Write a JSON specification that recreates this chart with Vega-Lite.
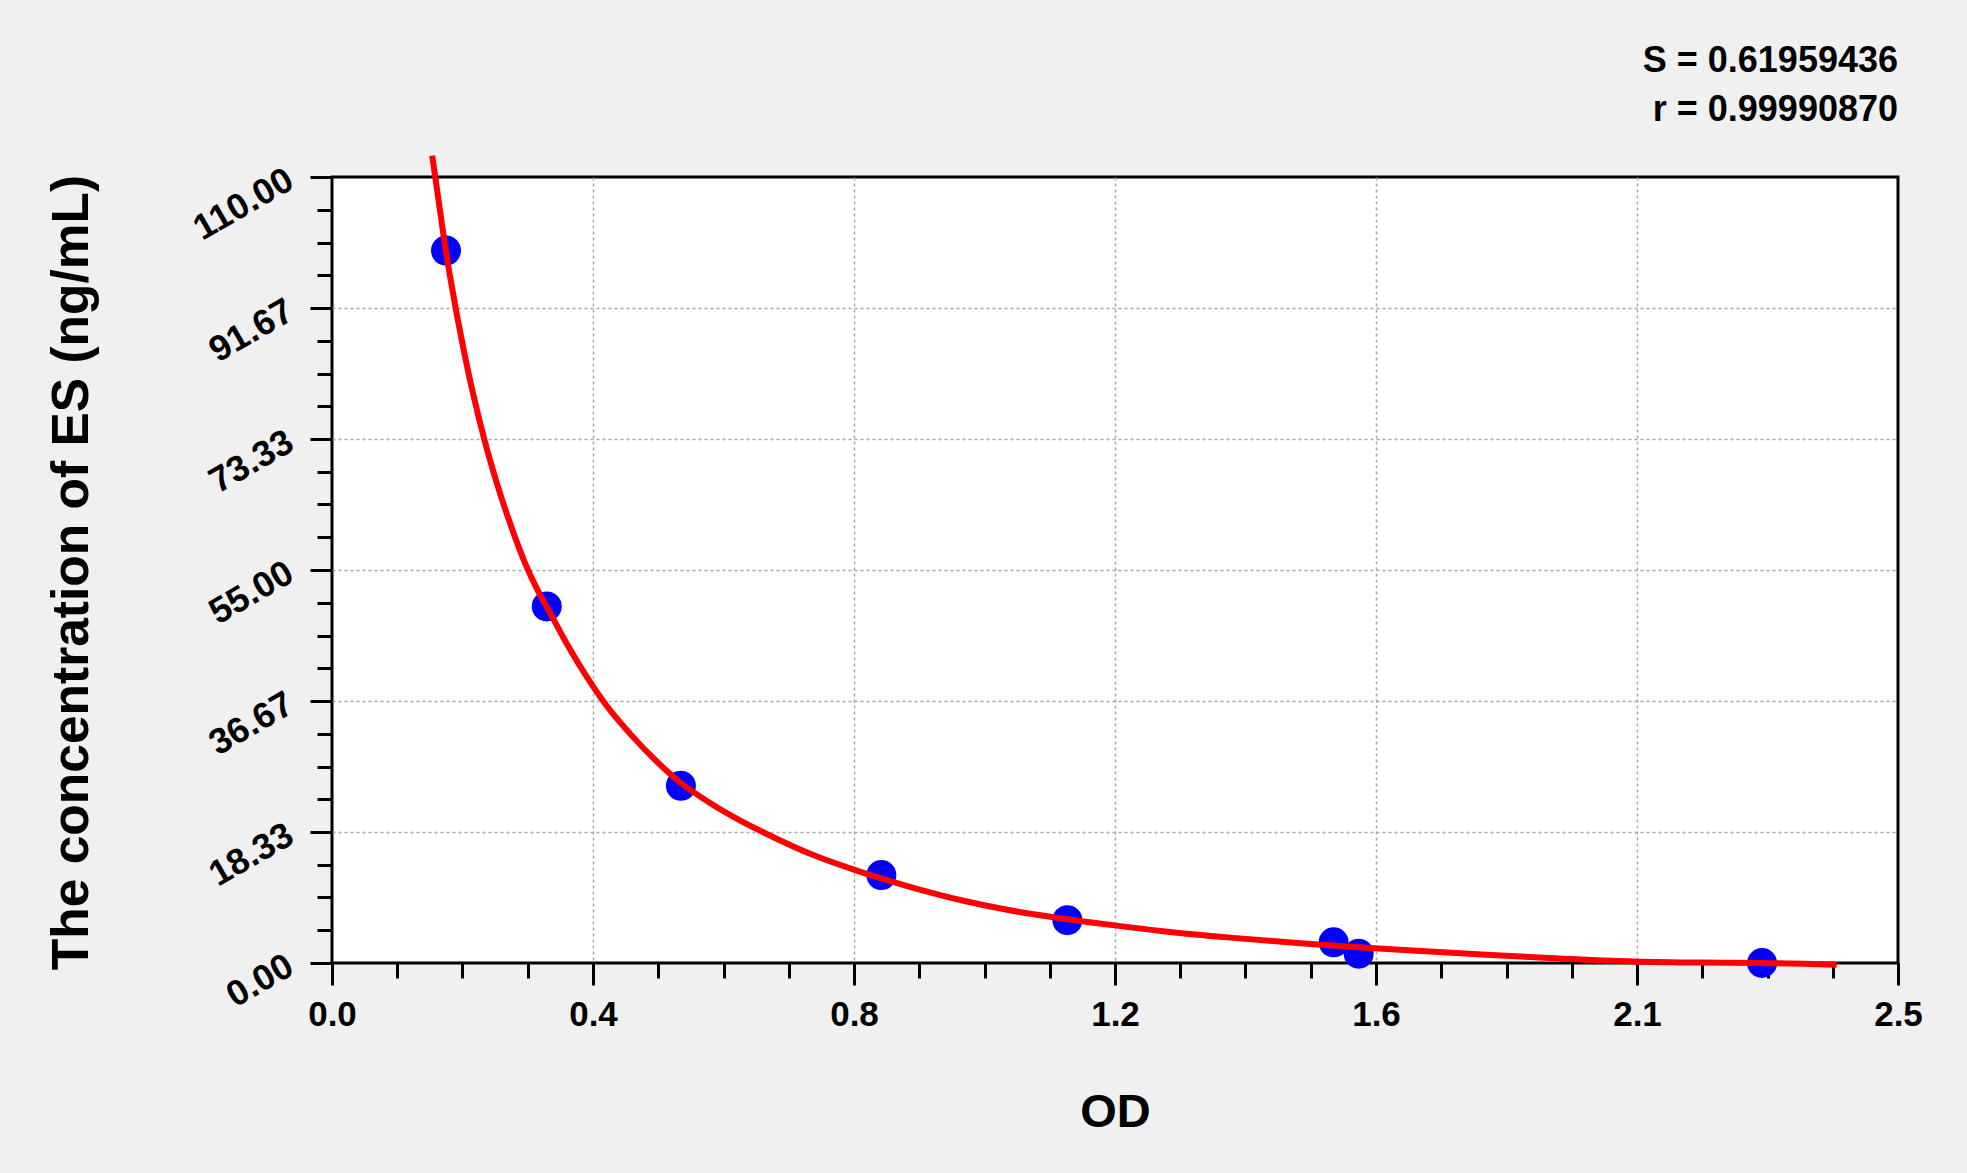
{
  "$schema": "https://vega.github.io/schema/vega-lite/v6.json",
  "width": 1566,
  "height": 786,
  "autosize": {"type": "none"},
  "padding": {"left": 332, "top": 177, "right": 69, "bottom": 210},
  "background": "#f0f0f0",
  "config": {
    "view": {"fill": "white", "stroke": "black", "strokeWidth": 3},
    "font": "Liberation Sans"
  },
  "title": {
    "text": "S = 0.61959436",
    "subtitle": "r = 0.99990870",
    "anchor": "end",
    "frame": "group",
    "font": "Liberation Sans",
    "fontSize": 36,
    "fontWeight": "bold",
    "color": "black",
    "subtitleFont": "Liberation Sans",
    "subtitleFontSize": 36,
    "subtitleFontWeight": "bold",
    "subtitleColor": "black",
    "subtitlePadding": 13,
    "offset": 15
  },
  "datasets": {
    "curve": [
      {"od": 0.160, "conc": 113.0},
      {"od": 0.170, "conc": 106.8},
      {"od": 0.1815, "conc": 99.8},
      {"od": 0.191, "conc": 94.8},
      {"od": 0.200, "conc": 90.4},
      {"od": 0.212, "conc": 85.0},
      {"od": 0.227, "conc": 79.0},
      {"od": 0.244, "conc": 73.0},
      {"od": 0.263, "conc": 67.2},
      {"od": 0.284, "conc": 61.6},
      {"od": 0.308, "conc": 56.0},
      {"od": 0.327, "conc": 52.4},
      {"od": 0.345, "conc": 49.5},
      {"od": 0.369, "conc": 45.6},
      {"od": 0.4146, "conc": 39.0},
      {"od": 0.4385, "conc": 36.0},
      {"od": 0.4757, "conc": 32.1},
      {"od": 0.5184, "conc": 28.2},
      {"od": 0.5556, "conc": 25.3},
      {"od": 0.6035, "conc": 22.4},
      {"od": 0.6461, "conc": 20.2},
      {"od": 0.7072, "conc": 17.5},
      {"od": 0.7714, "conc": 15.0},
      {"od": 0.8355, "conc": 13.0},
      {"od": 0.877, "conc": 11.85},
      {"od": 0.9353, "conc": 10.35},
      {"od": 1.0065, "conc": 8.75},
      {"od": 1.0777, "conc": 7.45},
      {"od": 1.149, "conc": 6.45},
      {"od": 1.2468, "conc": 5.3},
      {"od": 1.3273, "conc": 4.45},
      {"od": 1.434, "conc": 3.55},
      {"od": 1.541, "conc": 2.8},
      {"od": 1.625, "conc": 2.28},
      {"od": 1.746, "conc": 1.65},
      {"od": 1.843, "conc": 1.15},
      {"od": 1.953, "conc": 0.66},
      {"od": 2.079, "conc": 0.22},
      {"od": 2.185, "conc": 0.06},
      {"od": 2.283, "conc": 0.0},
      {"od": 2.402, "conc": -0.25}
    ],
    "points": [
      {"od": 0.182, "conc": 99.7},
      {"od": 0.3428, "conc": 49.9},
      {"od": 0.557, "conc": 24.8},
      {"od": 0.877, "conc": 12.3},
      {"od": 1.174, "conc": 6.0},
      {"od": 1.599, "conc": 2.9},
      {"od": 1.639, "conc": 1.3},
      {"od": 2.283, "conc": 0.0}
    ]
  },
  "layer": [
    {
      "data": {"name": "points"},
      "mark": {"type": "circle", "color": "#0000ff", "opacity": 1, "size": 900},
      "encoding": {
        "x": {
          "field": "od", "type": "quantitative",
          "scale": {"domain": [0, 2.5], "nice": false, "zero": false},
          "axis": {
            "orient": "bottom",
            "values": [0, 0.1041667, 0.2083333, 0.3125, 0.4166667, 0.5208333, 0.625, 0.7291667, 0.8333333, 0.9375, 1.0416667, 1.1458333, 1.25, 1.3541667, 1.4583333, 1.5625, 1.6666667, 1.7708333, 1.875, 1.9791667, 2.0833333, 2.1875, 2.2916667, 2.3958333, 2.5],
            "labels": false, "grid": false, "domain": false, "title": null,
            "ticks": true, "tickSize": 15, "tickWidth": 3, "tickColor": "black"
          }
        },
        "y": {
          "field": "conc", "type": "quantitative",
          "scale": {"domain": [0, 110], "nice": false, "zero": false},
          "axis": {
            "orient": "left",
            "values": [0, 4.583333, 9.166667, 13.75, 18.333333, 22.916667, 27.5, 32.083333, 36.666667, 41.25, 45.833333, 50.416667, 55, 59.583333, 64.166667, 68.75, 73.333333, 77.916667, 82.5, 87.083333, 91.666667, 96.25, 100.833333, 105.416667, 110],
            "labels": false, "grid": false, "domain": false, "title": null,
            "ticks": true, "tickSize": 15, "tickWidth": 3, "tickColor": "black"
          }
        }
      }
    },
    {
      "data": {"name": "curve"},
      "mark": {"type": "line", "color": "#ff0000", "strokeWidth": 6, "clip": false, "interpolate": "monotone"},
      "encoding": {
        "x": {
          "field": "od", "type": "quantitative",
          "scale": {"domain": [0, 2.5], "nice": false, "zero": false},
          "axis": {
            "orient": "bottom",
            "values": [0, 0.4166667, 0.8333333, 1.25, 1.6666667, 2.0833333, 2.5],
            "labelExpr": "['0.0','0.4','0.8','1.2','1.6','2.1','2.5'][round(datum.value*2.4)]",
            "domain": false,
            "tickSize": 22, "tickWidth": 3, "tickColor": "black",
            "grid": true, "gridColor": "#a8a8a8", "gridDash": [3, 3], "gridWidth": 1.5,
            "gridOpacity": {"condition": {"test": "datum.value > 0.01 && datum.value < 2.49", "value": 1}, "value": 0},
            "labelFont": "Liberation Sans", "labelFontSize": 35, "labelFontWeight": "bold", "labelColor": "black",
            "labelPadding": 12, "labelOverlap": false, "labelFlush": false,
            "title": "OD",
            "titleFont": "Liberation Sans", "titleFontSize": 47, "titleFontWeight": "bold", "titleColor": "black",
            "titleX": 783, "titleY": 149, "titleBaseline": "middle", "titleAlign": "center"
          }
        },
        "y": {
          "field": "conc", "type": "quantitative",
          "scale": {"domain": [0, 110], "nice": false, "zero": false},
          "axis": {
            "orient": "left",
            "values": [0, 18.333333, 36.666667, 55, 73.333333, 91.666667, 110],
            "format": ".2f",
            "domain": false,
            "tickSize": 22, "tickWidth": 3, "tickColor": "black",
            "grid": true, "gridColor": "#a8a8a8", "gridDash": [3, 3], "gridWidth": 1.5,
            "gridOpacity": {"condition": {"test": "datum.value > 0.01 && datum.value < 109.99", "value": 1}, "value": 0},
            "labelFont": "Liberation Sans", "labelFontSize": 36, "labelFontWeight": "bold", "labelColor": "black",
            "labelAngle": -30, "labelAlign": "right", "labelBaseline": "middle",
            "labelPadding": 20, "labelOverlap": false, "labelFlush": false,
            "title": "The concentration of ES (ng/mL)",
            "titleFont": "Liberation Sans", "titleFontSize": 51.5, "titleFontWeight": "bold", "titleColor": "black",
            "titleAngle": -90, "titleX": -245, "titleY": 395, "titleBaseline": "alphabetic", "titleAlign": "center"
          }
        }
      }
    }
  ],
  "resolve": {"axis": {"x": "independent", "y": "independent"}}
}
